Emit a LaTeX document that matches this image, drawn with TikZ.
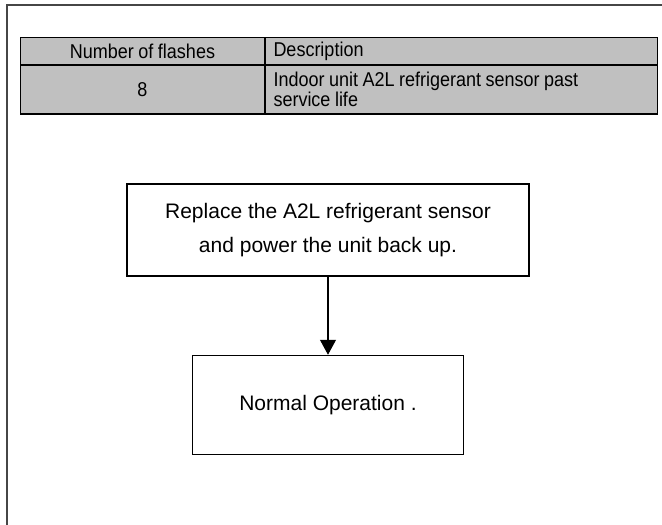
\documentclass[tikz,border=0pt]{standalone}
\usepackage{fontspec}
\setmainfont{Liberation Sans}
\newfontfamily\tabfont[FakeStretch=0.9, WordSpace=0.9]{Liberation Sans}
\usetikzlibrary{shapes,arrows.meta,positioning}
\definecolor{cellgray}{RGB}{192,192,192}
\definecolor{framegray}{RGB}{70,70,70}
\tikzstyle{cell} = [draw, rectangle, fill=cellgray, line width=1pt, inner sep=0pt, anchor=north west, font=\tabfont\fontsize{20}{13}\selectfont]
\tikzstyle{desccell} = [cell, minimum width=392pt, text width=376pt, align=flush left]
\tikzstyle{box} = [draw, rectangle, line width=1.5pt, align=center, font=\fontsize{21}{34}\selectfont]
\tikzstyle{line} = [draw, line width=1.2pt, -{Triangle[length=15pt,width=16pt]}]

\begin{document}
\begin{tikzpicture}[x=1pt, y=-1pt]
	\useasboundingbox (0,0) rectangle (662,525);
	% page frame
	\draw [framegray, line width=1.5pt] (7,525) -- (7,5) -- (662,5);

	% flash code table
	\node [cell, minimum width=244pt, minimum height=27pt] (numhead) at (20,37) {Number of flashes};
	\node [desccell, minimum height=27pt] (deschead) at (numhead.north east) {Description};
	\node [cell, minimum width=244pt, minimum height=48pt] (numval) at (numhead.south west) {8};
	\node [desccell, minimum height=48pt] (descval) at (numval.north east) {Indoor unit A2L refrigerant sensor past\\service life};
	\draw [line width=2.5pt] (numval.south west) -- (descval.south east);

	% procedure
	\node [box, minimum width=402pt, minimum height=92pt] (replace) at (328,230) {Replace the A2L refrigerant sensor\\and power the unit back up.};
	\node [box, below=78pt of replace, minimum width=271pt, minimum height=99pt] (normal) {Normal Operation .};

	\path [line] (replace) -- (normal);
\end{tikzpicture}
\end{document}
